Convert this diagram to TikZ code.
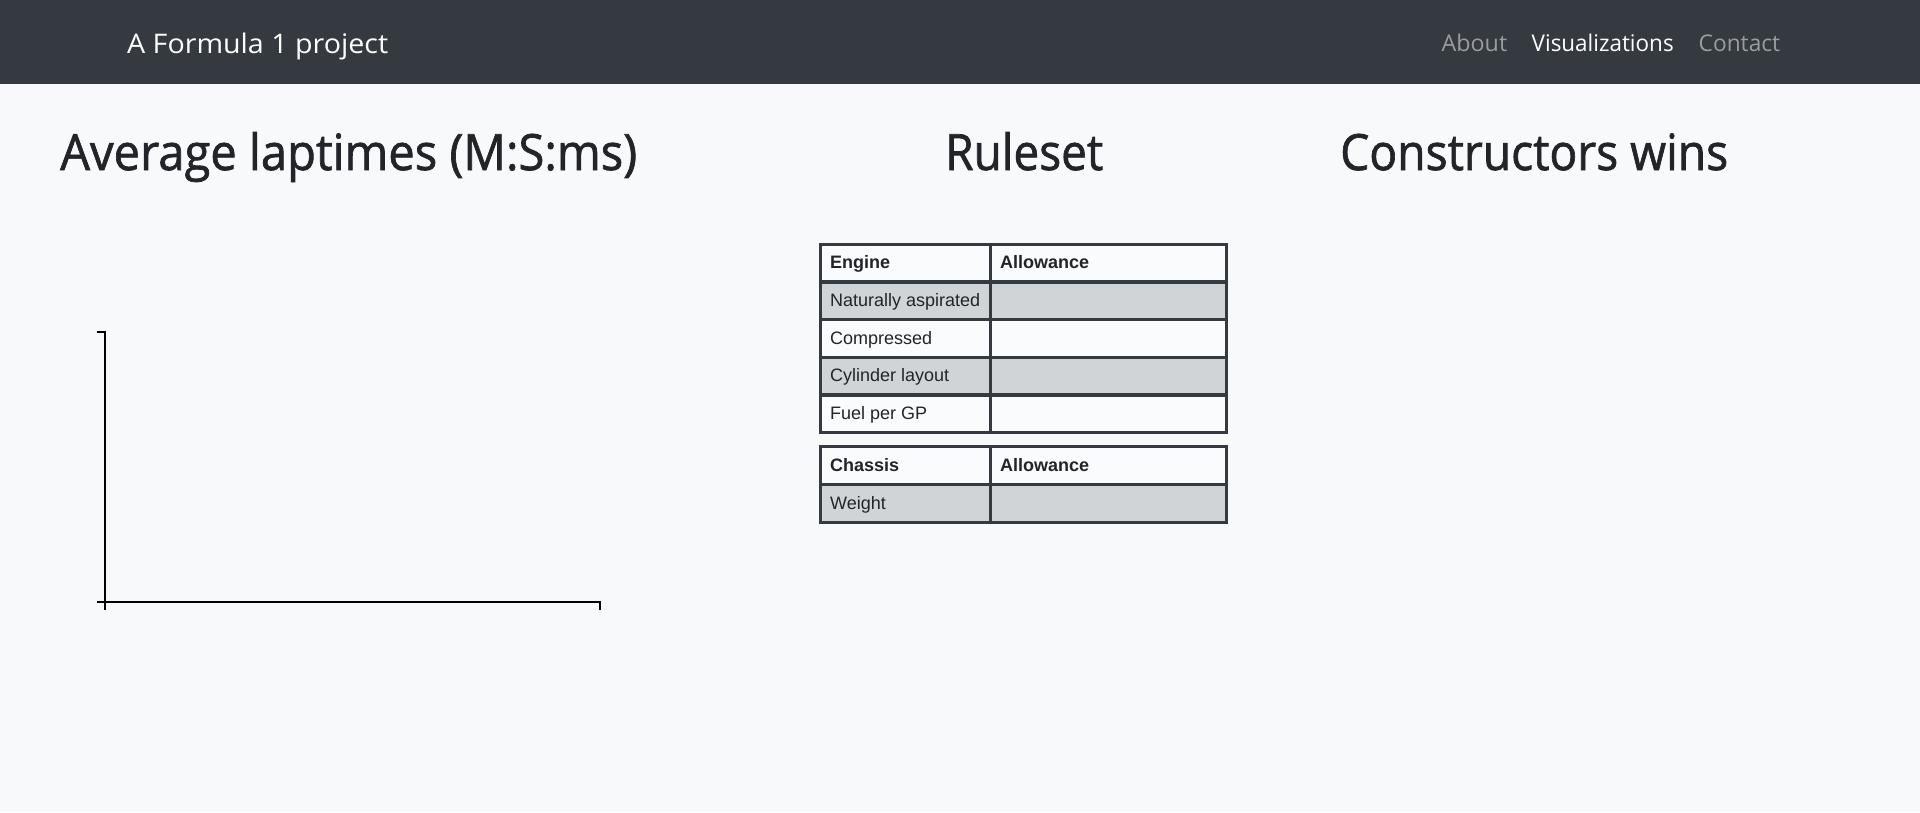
\documentclass[tikz,border=0pt]{standalone}
\usepackage{fontspec}
\usepackage{graphicx}
\setmainfont{Liberation Sans}
\newfontfamily\headfont{Open Sans}
\newfontfamily\bigheadfont[FakeBold=1.4]{Open Sans}
\definecolor{pagebg}{HTML}{F8F9FA}
\definecolor{navbg}{HTML}{343A40}
\definecolor{navdim}{HTML}{9A9DA0}
\definecolor{ink}{HTML}{212529}
\definecolor{rowgray}{HTML}{D1D4D7}
\definecolor{cellwhite}{HTML}{FAFBFC}
\definecolor{tabline}{HTML}{343A40}
\newsavebox\fitbox
\newcommand\fitx[2]{\sbox\fitbox{#2}\pgfmathsetmacro\fitsf{#1/\wd\fitbox}\scalebox{\fitsf}[1]{\usebox\fitbox}}
\tikzset{
  txt/.style={inner sep=0pt, anchor=base west},
  navbrand/.style={txt, text=white, font=\headfont\fontsize{27}{30}\selectfont},
  navlink/.style={txt, text=navdim, font=\headfont\fontsize{23}{26}\selectfont},
  navactive/.style={txt, text=white, font=\headfont\fontsize{23}{26}\selectfont},
  heading/.style={txt, text=ink, font=\bigheadfont\fontsize{50}{56}\selectfont},
  celltext/.style={txt, text=ink, font=\fontsize{18}{20}\selectfont},
  cellhead/.style={txt, text=ink, font=\bfseries\fontsize{18}{20}\selectfont},
  grayrow/.style={fill=rowgray, draw=none},
  whiterow/.style={fill=cellwhite, draw=none},
  tabrule/.style={draw=tabline, line width=3.2pt},
  axisline/.style={draw=black, line width=2pt},
}
\begin{document}
\begin{tikzpicture}[x=1pt,y=-1pt]
\useasboundingbox (0,0) rectangle (1920,812);
\fill[pagebg] (0,0) rectangle (1920,812);
\fill[navbg] (0,0) rectangle (1920,84);
% navbar
\node[navbrand] (brand) at (127,53.3) {\fitx{261}{A Formula 1 project}};
\node[navlink] (about) at (1441.5,51.7) {\fitx{65.5}{About}};
\node[navactive] (vis) at (1531.5,51.7) {\fitx{142}{Visualizations}};
\node[navlink] (contact) at (1698.5,51.7) {\fitx{81.5}{Contact}};
% headings
\node[heading] (h1) at (60,170) {\fitx{577}{Average laptimes (M:S:ms)}};
\node[heading] (h2) at (945,170) {\fitx{158}{Ruleset}};
\node[heading] (h3) at (1340,170) {\fitx{388}{Constructors wins}};
% axes
\coordinate (ytop) at (104.6,331.7);
\coordinate (ybot) at (104.6,602);
\coordinate (xright) at (600,602);
\draw[axisline] (96.5,331.7) -- (ytop) -- (ybot) -- (96.5,602);
\draw[axisline] (104.6,610) -- (ybot) -- (xright) -- (600,610);
% table 1 rows
\fill[whiterow] (820.7,244.2) rectangle (1226.7,281.9);
\fill[grayrow] (820.7,281.9) rectangle (1226.7,319.6);
\fill[whiterow] (820.7,319.6) rectangle (1226.7,357.3);
\fill[grayrow] (820.7,357.3) rectangle (1226.7,395.0);
\fill[whiterow] (820.7,395.0) rectangle (1226.7,432.7);
\foreach \yy in {244.2,281.9,319.6,357.3,395.0,432.7}
  \draw[tabrule] (819.1,\yy) -- (1228.3,\yy);
\foreach \xx in {820.7,990.3,1226.7}
  \draw[tabrule] (\xx,244.2) -- (\xx,432.7);
% table 2 rows
\fill[whiterow] (820.7,446.8) rectangle (1226.7,484.7);
\fill[grayrow] (820.7,484.7) rectangle (1226.7,522.2);
\foreach \yy in {446.8,484.7,522.2}
  \draw[tabrule] (819.1,\yy) -- (1228.3,\yy);
\foreach \xx in {820.7,990.3,1226.7}
  \draw[tabrule] (\xx,446.8) -- (\xx,522.2);
% table texts
\node[cellhead] (engine) at (830,268.6) {Engine};
\node[cellhead] (allow1) at (1000,268.6) {Allowance};
\node[celltext] (nat) at (830,306.3) {Naturally aspirated};
\node[celltext] (comp) at (830,344.0) {Compressed};
\node[celltext] (cyl) at (830,381.7) {Cylinder layout};
\node[celltext] (fuel) at (830,419.4) {Fuel per GP};
\node[cellhead] (chassis) at (830,471.4) {Chassis};
\node[cellhead] (allow2) at (1000,471.4) {Allowance};
\node[celltext] (weight) at (830,509.1) {Weight};
\end{tikzpicture}
\end{document}
